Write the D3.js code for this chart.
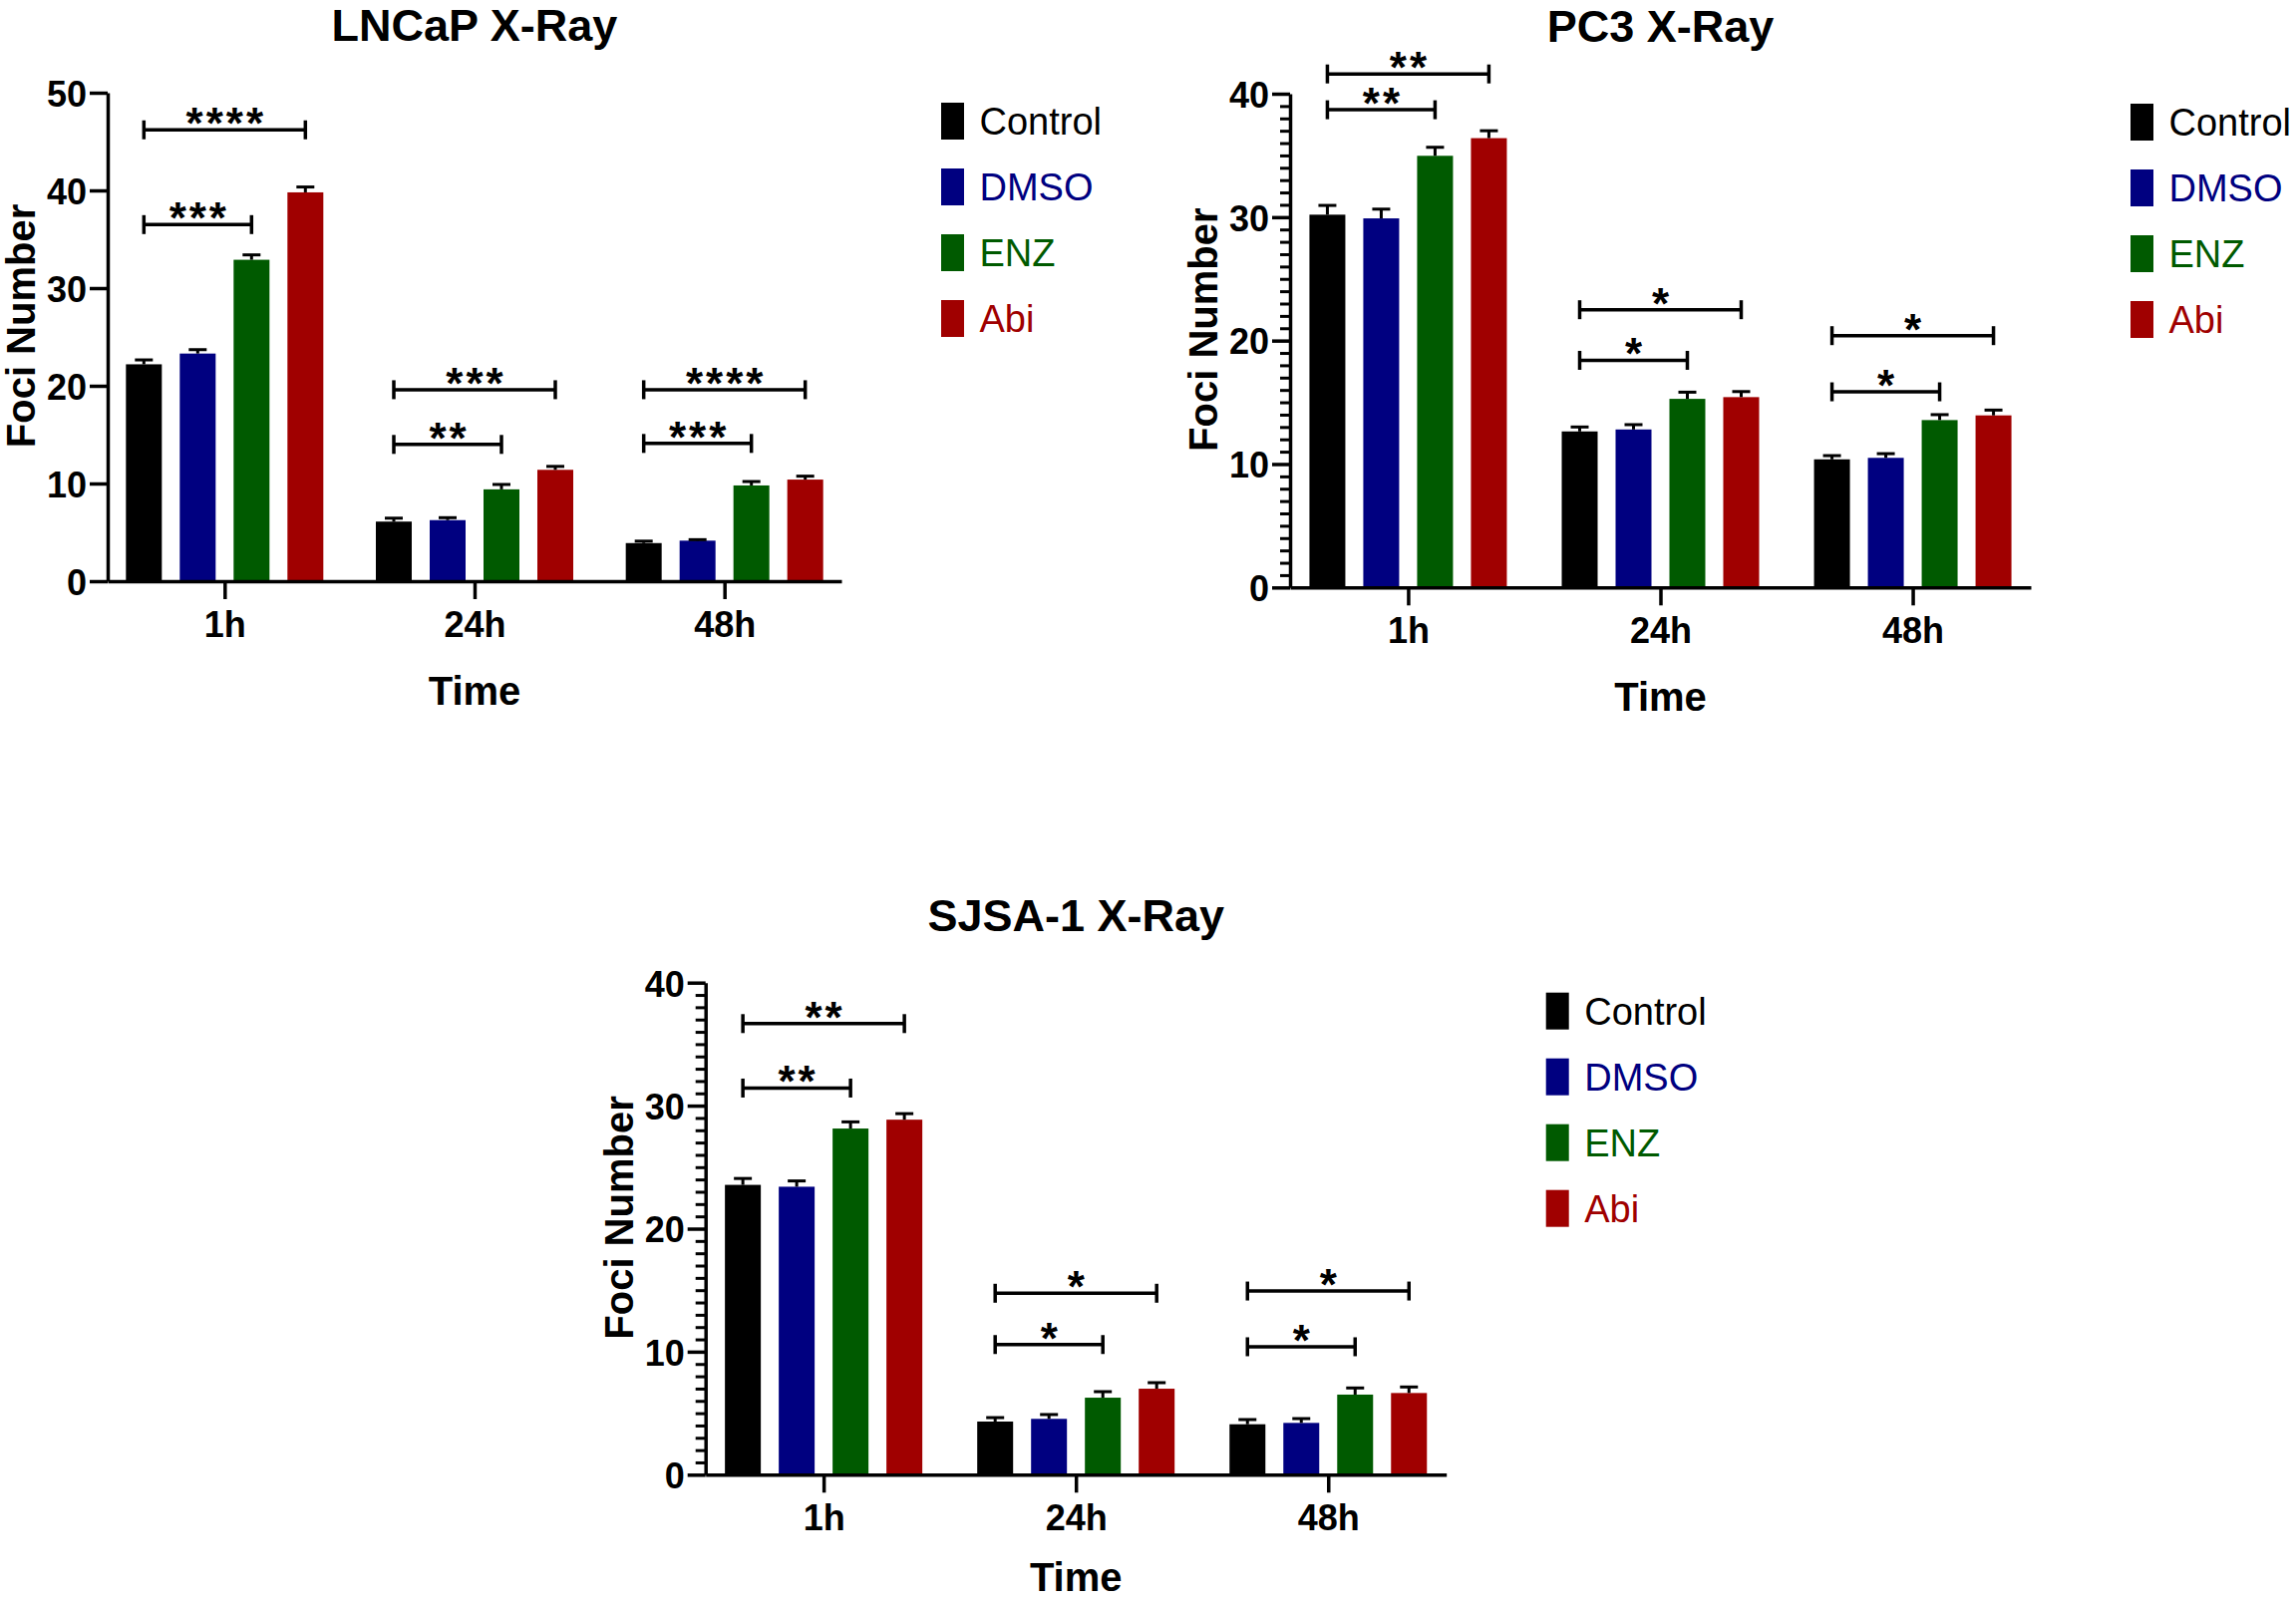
<!DOCTYPE html>
<html><head><meta charset="utf-8">
<script src="https://cdn.jsdelivr.net/npm/d3@7"></script>
<style>
body{margin:0;background:#fff}
svg{display:block;background:#fff}
text{font-family:"Liberation Sans",Arial,Helvetica,sans-serif}
</style>
</head><body>
<svg id="chart" width="2303" height="1606"></svg>
<script>
// ---------- data ----------
const groups = ["1h", "24h", "48h"];
const seriesNames = ["Control", "DMSO", "ENZ", "Abi"];
const seriesColors = ["#000000", "#000080", "#005A00", "#A00000"];

const yTicksLNCaP = [0, 10, 20, 30, 40, 50];
const yTicksPC3 = [0, 10, 20, 30, 40];
const yTicksSJSA = [0, 10, 20, 30, 40];

// rows = series (Control, DMSO, ENZ, Abi), cols = groups (1h, 24h, 48h)
const lncapMeans = [[22.2, 6.1, 3.9], [23.3, 6.25, 4.15], [32.9, 9.4, 9.8], [39.8, 11.4, 10.4]];
const lncapSem   = [[0.45, 0.35, 0.2], [0.4, 0.25, 0.1], [0.5, 0.5, 0.4], [0.55, 0.35, 0.35]];
const lncapSig = [
  ["1h", "Control", "Abi", 46.2, "****"],
  ["1h", "Control", "ENZ", 36.5, "***"],
  ["24h", "Control", "Abi", 19.6, "***"],
  ["24h", "Control", "ENZ", 14.0, "**"],
  ["48h", "Control", "Abi", 19.6, "****"],
  ["48h", "Control", "ENZ", 14.1, "***"]
];

const pc3Means = [[30.2, 12.64, 10.38], [29.9, 12.8, 10.5], [34.97, 15.28, 13.56], [36.4, 15.42, 13.94]];
const pc3Sem   = [[0.75, 0.36, 0.3], [0.75, 0.39, 0.34], [0.69, 0.54, 0.44], [0.6, 0.45, 0.43]];
const pc3Sig = [
  ["1h", "Control", "Abi", 41.6, "**"],
  ["1h", "Control", "ENZ", 38.7, "**"],
  ["24h", "Control", "Abi", 22.5, "*"],
  ["24h", "Control", "ENZ", 18.4, "*"],
  ["48h", "Control", "Abi", 20.4, "*"],
  ["48h", "Control", "ENZ", 15.85, "*"]
];

const sjsaMeans = [[23.56, 4.32, 4.1], [23.41, 4.54, 4.21], [28.14, 6.26, 6.51], [28.86, 6.99, 6.64]];
const sjsaSem   = [[0.52, 0.32, 0.38], [0.47, 0.35, 0.35], [0.54, 0.49, 0.54], [0.49, 0.49, 0.49]];
const sjsaSig = [
  ["1h", "Control", "Abi", 36.67, "**"],
  ["1h", "Control", "ENZ", 31.43, "**"],
  ["24h", "Control", "Abi", 14.75, "*"],
  ["24h", "Control", "ENZ", 10.58, "*"],
  ["48h", "Control", "Abi", 14.93, "*"],
  ["48h", "Control", "ENZ", 10.4, "*"]
];

// ---------- layout ----------
const panels = [
  {title: "LNCaP X-Ray", means: lncapMeans, sem: lncapSem, sig: lncapSig, yMax: 50, yTicks: yTicksLNCaP, minor: false,
   left: 108, right: 844, top: 93, bottom: 583},
  {title: "PC3 X-Ray", means: pc3Means, sem: pc3Sem, sig: pc3Sig, yMax: 40, yTicks: yTicksPC3, minor: true,
   left: 1294, right: 2037, top: 94, bottom: 589.3},
  {title: "SJSA-1 X-Ray", means: sjsaMeans, sem: sjsaSem, sig: sjsaSig, yMax: 40, yTicks: yTicksSJSA, minor: true,
   left: 707.7, right: 1450.7, top: 985.7, bottom: 1479.3}
];

const svg = d3.select("#chart");
svg.append("rect").attr("width", 2303).attr("height", 1606).attr("fill", "#fff");

const AXW = 3.5;

panels.forEach(p => {
  const g = svg.append("g");
  const y = d3.scaleLinear().domain([0, p.yMax]).range([p.bottom, p.top]);
  const x0 = d3.scalePoint().domain(groups).range([p.left, p.right]).padding(0.468);
  const x1 = d3.scaleBand().domain(seriesNames).range([-99, 99]).paddingInner(1 / 3).paddingOuter(0);
  const color = d3.scaleOrdinal().domain(seriesNames).range(seriesColors);

  // bars
  const rows = [];
  seriesNames.forEach((s, si) => groups.forEach((gr, gi) => {
    rows.push({s, gr, v: p.means[si][gi], e: p.sem[si][gi]});
  }));
  g.selectAll("rect.bar").data(rows).join("rect").attr("class", "bar")
    .attr("x", d => x0(d.gr) + x1(d.s))
    .attr("width", x1.bandwidth())
    .attr("y", d => y(d.v))
    .attr("height", d => y(0) - y(d.v))
    .attr("fill", d => color(d.s));

  // error bars (upper only)
  const capW = 18;
  g.selectAll("line.err").data(rows).join("line").attr("class", "err")
    .attr("x1", d => x0(d.gr) + x1(d.s) + x1.bandwidth() / 2)
    .attr("x2", d => x0(d.gr) + x1(d.s) + x1.bandwidth() / 2)
    .attr("y1", d => y(d.v)).attr("y2", d => y(d.v + d.e))
    .attr("stroke", "#000").attr("stroke-width", 3);
  g.selectAll("line.cap").data(rows).join("line").attr("class", "cap")
    .attr("x1", d => x0(d.gr) + x1(d.s) + x1.bandwidth() / 2 - capW / 2)
    .attr("x2", d => x0(d.gr) + x1(d.s) + x1.bandwidth() / 2 + capW / 2)
    .attr("y1", d => y(d.v + d.e)).attr("y2", d => y(d.v + d.e))
    .attr("stroke", "#000").attr("stroke-width", 3);

  // axes
  if (p.minor) {
    const minorTicks = d3.range(0, p.yMax + 0.001, 1).filter(v => v % 10 !== 0);
    g.append("g").attr("transform", `translate(${p.left},0)`)
      .call(d3.axisLeft(y).tickValues(minorTicks).tickSize(10).tickSizeOuter(0).tickFormat(""))
      .call(a => a.select(".domain").remove())
      .call(a => a.selectAll("line").attr("stroke", "#000").attr("stroke-width", 3));
  }
  const yAxis = g.append("g").attr("transform", `translate(${p.left},0)`)
    .call(d3.axisLeft(y).tickValues(p.yTicks).tickSize(18).tickSizeOuter(0).tickPadding(3).tickFormat(d3.format("d")));
  yAxis.select(".domain").attr("stroke", "#000").attr("stroke-width", AXW);
  yAxis.selectAll(".tick line").attr("stroke", "#000").attr("stroke-width", AXW);
  yAxis.selectAll(".tick text").attr("fill", "#000").attr("font-size", 36).attr("font-weight", "bold")
    .attr("font-family", '"Liberation Sans",Arial,sans-serif').attr("dy", "0.37em");

  const xAxis = g.append("g").attr("transform", `translate(0,${p.bottom})`)
    .call(d3.axisBottom(x0).tickSize(18).tickSizeOuter(0).tickPadding(12));
  xAxis.select(".domain").attr("stroke", "#000").attr("stroke-width", AXW);
  xAxis.selectAll(".tick line").attr("stroke", "#000").attr("stroke-width", AXW);
  xAxis.selectAll(".tick text").attr("fill", "#000").attr("font-size", 36).attr("font-weight", "bold")
    .attr("font-family", '"Liberation Sans",Arial,sans-serif').attr("dy", null).attr("y", 56);

  // axis titles
  g.append("text").attr("transform", `translate(${p.left - 73},${(p.top + p.bottom) / 2 - 11}) rotate(-90)`)
    .attr("text-anchor", "middle").attr("font-size", 40).attr("font-weight", "bold").text("Foci Number");
  g.append("text").attr("x", (p.left + p.right) / 2).attr("y", Math.min(p.bottom + 124, 1596))
    .attr("text-anchor", "middle").attr("font-size", 40).attr("font-weight", "bold").text("Time");

  // title
  g.append("text").attr("x", (p.left + p.right) / 2).attr("y", p.top - 52)
    .attr("text-anchor", "middle").attr("font-size", 45).attr("font-weight", "bold").text(p.title);

  // significance brackets
  const barC = (gr, s) => x0(gr) + x1(s) + x1.bandwidth() / 2;
  const sig = p.sig.map(d => ({gr: d[0], a: d[1], b: d[2], v: d[3], lab: d[4]}));
  const bg = g.selectAll("g.sig").data(sig).join("g").attr("class", "sig");
  bg.append("line")
    .attr("x1", d => barC(d.gr, d.a)).attr("x2", d => barC(d.gr, d.b))
    .attr("y1", d => y(d.v)).attr("y2", d => y(d.v))
    .attr("stroke", "#000").attr("stroke-width", 3.5);
  bg.append("line")
    .attr("x1", d => barC(d.gr, d.a)).attr("x2", d => barC(d.gr, d.a))
    .attr("y1", d => y(d.v) - 9.5).attr("y2", d => y(d.v) + 9.5)
    .attr("stroke", "#000").attr("stroke-width", 3.5);
  bg.append("line")
    .attr("x1", d => barC(d.gr, d.b)).attr("x2", d => barC(d.gr, d.b))
    .attr("y1", d => y(d.v) - 9.5).attr("y2", d => y(d.v) + 9.5)
    .attr("stroke", "#000").attr("stroke-width", 3.5);
  bg.append("text")
    .attr("x", d => (barC(d.gr, d.a) + barC(d.gr, d.b)) / 2 + 1.5)
    .attr("y", d => y(d.v) + 9)
    .attr("text-anchor", "middle").attr("font-size", 44).attr("font-weight", "bold")
    .attr("letter-spacing", "3px").text(d => d.lab);

  // legend
  const lx = p.right + 100, ly = p.top + 10;
  const lg = g.selectAll("g.leg").data(seriesNames).join("g").attr("class", "leg")
    .attr("transform", (d, i) => `translate(${lx},${ly + i * 66})`);
  lg.append("rect").attr("width", 23).attr("height", 37).attr("fill", d => color(d));
  lg.append("text").attr("x", 38.5).attr("y", 18.5 + 13.6).attr("font-size", 38)
    .attr("fill", d => color(d)).text(d => d);
});
</script>
</body></html>
